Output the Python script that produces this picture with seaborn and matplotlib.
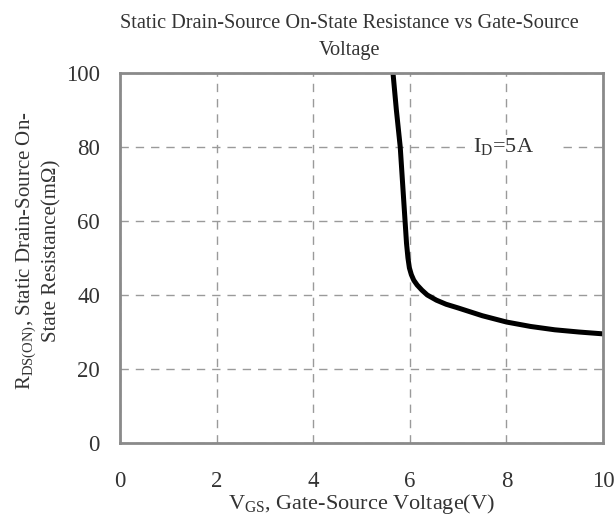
import matplotlib
matplotlib.use("Agg")
import matplotlib.pyplot as plt
import seaborn as sns
import pandas as pd

# Gate-source voltage (V) and on-state resistance (mOhm) at ID = 5 A
vgs = [5.65, 5.72, 5.80, 5.86, 5.90, 5.93, 5.96, 5.99, 6.03, 6.08, 6.15, 6.25,
       6.36, 6.55, 6.75, 7.0, 7.5, 8.0, 8.5, 9.0, 9.5, 10.0]
rds = [100, 90, 80, 68, 60, 54, 50, 47.3, 45.5, 44.0, 42.7, 41.3,
       40.0, 38.6, 37.5, 36.5, 34.4, 32.7, 31.5, 30.6, 30.0, 29.5]

x_ticks = [0, 2, 4, 6, 8, 10]
y_ticks = [0, 20, 40, 60, 80, 100]

sns.set_style("white")
plt.rcParams["font.family"] = ["Liberation Serif", "DejaVu Serif"]
plt.rcParams["mathtext.fontset"] = "custom"
plt.rcParams["mathtext.rm"] = "Liberation Serif"

text_color = "#333333"

fig = plt.figure(figsize=(6.16, 5.17), dpi=100)
ax = fig.add_axes([0.195, 0.143, 0.784, 0.716])

df = pd.DataFrame({"VGS": vgs, "RDS": rds})
sns.lineplot(data=df, x="VGS", y="RDS", ax=ax, color="black", linewidth=3.6,
             sort=False, estimator=None)

ax.set_xlim(0, 10)
ax.set_ylim(0, 100)
ax.set_xticks(x_ticks)
ax.set_yticks(y_ticks)
ax.set_xticklabels([str(t) for t in x_ticks])
ax.set_yticklabels([str(t) for t in y_ticks])
ax.tick_params(axis="both", length=0, labelsize=16.5, colors=text_color)
ax.tick_params(axis="x", pad=20)
ax.tick_params(axis="y", pad=14.5)

ax.grid(True, linestyle=(0, (6, 5)), color="#9a9a9a", linewidth=1.0)
for sp in ax.spines.values():
    sp.set_color("#8a8a8a")
    sp.set_linewidth(2)

ax.set_xlabel(r"V$\mathregular{_{GS}}$, Gate-Source Voltage(V)", fontsize=16,
              color=text_color, labelpad=0)
ax.set_ylabel("R$\\mathregular{_{DS(ON)}}$, Static Drain-Source On-\n"
              "State Resistance(m\u03a9)",
              fontsize=15, color=text_color, linespacing=1.3)
ax.yaxis.set_label_coords(-0.122, 0.52)
ax.set_title("Static Drain-Source On-State Resistance vs Gate-Source\nVoltage",
             fontsize=14.6, color=text_color, pad=13, linespacing=1.55, x=0.474)

ax.text(7.31, 80, r"I$\mathregular{_D}$=5A     ", fontsize=16, color=text_color,
        ha="left", va="center",
        bbox=dict(facecolor="white", edgecolor="none", pad=1))

fig.savefig("out.png", dpi=100)
